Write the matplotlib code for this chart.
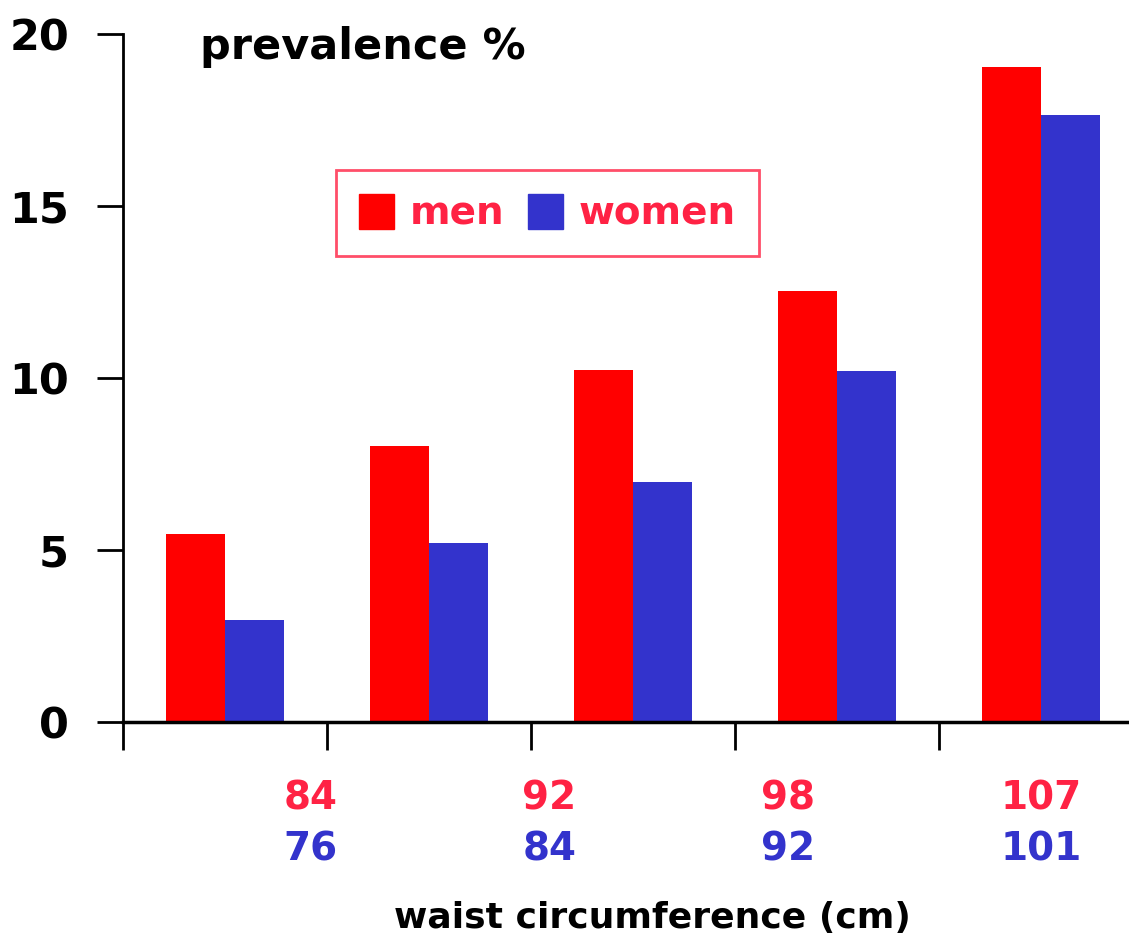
import numpy as np
import matplotlib.pyplot as plt
from matplotlib.patches import Patch

# data
groups = np.arange(5)
men = [5.47, 8.02, 10.23, 12.53, 19.04]
women = [2.97, 5.2, 6.98, 10.2, 17.65]
men_cut = ['84', '92', '98', '107']
women_cut = ['76', '84', '92', '101']
cut_pos = [0.42, 1.59, 2.76, 4.0]

RED = '#ff0000'
BLUE = '#3333cc'
TXT_RED = '#ff2244'

plt.rcParams['font.family'] = ['DejaVu Sans']
plt.rcParams['font.weight'] = 'bold'

fig = plt.figure(figsize=(11.29, 9.43), dpi=100)
ax = fig.add_axes([0.109, 0.234, 0.891, 0.730])

w = 0.29
ax.bar(groups - w / 2, men, width=w, color=RED, label='men')
ax.bar(groups + w / 2, women, width=w, color=BLUE, label='women')

ax.set_ylim(0, 20)
ax.set_xlim(-0.5, 4.43)
ax.set_yticks([0, 5, 10, 15, 20])
ax.set_yticklabels(['0', '5', '10', '15', '20'], fontsize=31, fontweight='bold')
ax.set_xticks([-0.5, 0.5, 1.5, 2.5, 3.5])
ax.set_xticklabels([])
ax.tick_params(axis='y', length=19, width=2, pad=20)
ax.tick_params(axis='x', length=20, width=2)
for s in ['top', 'right']:
    ax.spines[s].set_visible(False)
ax.spines['left'].set_linewidth(2)
ax.spines['bottom'].set_linewidth(2.5)

# two rows of cut-off labels below the axis
for x, m, f in zip(cut_pos, men_cut, women_cut):
    ax.text(x, -2.2, m, color=TXT_RED, fontsize=28, fontweight='bold',
            ha='center', va='center')
    ax.text(x, -3.7, f, color=BLUE, fontsize=28, fontweight='bold',
            ha='center', va='center')

fig.text(0.578, 0.027, 'waist circumference (cm)', fontsize=26,
         fontweight='bold', ha='center', va='center')
fig.text(0.177, 0.950, 'prevalence %', fontsize=31, fontweight='bold',
         ha='left', va='center')

handles = [Patch(color=RED), Patch(color=BLUE)]
leg = fig.legend(handles, ['men', 'women'], ncol=2, loc='center',
                 bbox_to_anchor=(0.485, 0.774), fontsize=28, frameon=True,
                 fancybox=False, handlelength=0.9, handleheight=1.0,
                 handletextpad=0.4, columnspacing=0.6, borderpad=0.6,
                 borderaxespad=0)
leg.get_frame().set_edgecolor(TXT_RED)
leg.get_frame().set_linewidth(2)
for t in leg.get_texts():
    t.set_color(TXT_RED)
    t.set_fontweight('bold')

fig.savefig('out.png', dpi=100)
